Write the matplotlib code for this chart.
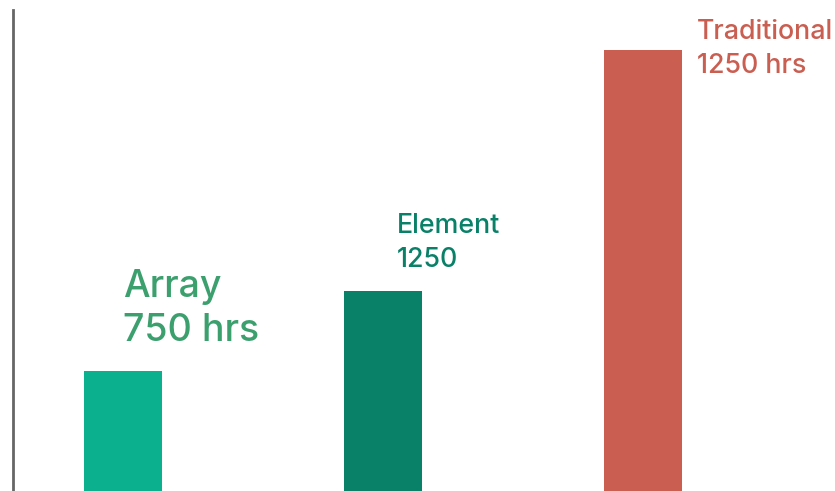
import matplotlib
matplotlib.use("Agg")
import matplotlib.pyplot as plt

plt.rcParams["font.family"] = ["Inter", "DejaVu Sans"]

# Hours per approach
categories = ["Array", "Element", "Traditional"]
hours = [750, 1250, 2750]
labels = ["Array\n750 hrs", "Element\n1250", "Traditional\n1250 hrs"]

bar_colors = ["#0bb08e", "#098068", "#c95e51"]
label_colors = ["#3ca06e", "#098068", "#c95e51"]
label_sizes = [27, 19.3, 19.3]
label_spacing = [1.3, 1.36, 1.36]
# label anchor: x in data units, baseline of last line in data units
label_pos = [(0.0, 935), (1.054, 1400), (2.208, 2610)]

fig = plt.figure(figsize=(8.35, 4.91), dpi=100)
ax = fig.add_axes([13 / 835, 0, 822 / 835, 481 / 491])

x = list(range(len(categories)))
ax.bar(x, hours, width=0.3, color=bar_colors, zorder=2)

for txt, c, s, ls, (tx, ty) in zip(labels, label_colors, label_sizes,
                                   label_spacing, label_pos):
    ax.text(tx, ty, txt, color=c, fontsize=s, fontweight="medium",
            ha="left", va="baseline", linespacing=ls)

ax.set_xlim(-0.423, 2.738)
ax.set_ylim(0, 3000)

for side in ["top", "right", "bottom"]:
    ax.spines[side].set_visible(False)
ax.spines["left"].set_color("#666666")
ax.spines["left"].set_linewidth(2)
ax.set_xticks([])
ax.set_yticks([])

fig.savefig("out.png", dpi=100)
